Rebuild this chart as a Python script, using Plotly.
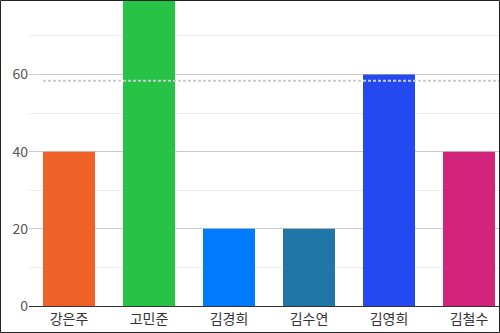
import plotly.graph_objects as go

# Scores per person
names = ["강은주", "고민준", "김경희", "김수연", "김영희", "김철수"]
scores = [40, 80, 20, 20, 60, 40]
bar_colors = ["#EE622A", "#27C346", "#007BFF", "#2176A8", "#2449F0", "#D2247A"]
reference_value = 58.4

W, H = 500, 333
M_L, M_R, M_T, M_B = 29, 0, 0, 27
plot_w = W - M_L - M_R
plot_h = H - M_T - M_B

fig = go.Figure(
    go.Bar(
        x=names,
        y=scores,
        marker=dict(color=bar_colors, line=dict(width=0)),
        width=0.65,
        hoverinfo="x+y",
    )
)

# Dotted reference line from the first bar's left edge across the plot
fig.add_shape(
    type="line",
    xref="x", yref="y",
    x0=-0.325, x1=5.6,
    y0=reference_value, y1=reference_value,
    line=dict(color="#CCCCCC", width=2, dash="3px,2px"),
    layer="above",
)

# Frame around the whole figure
fig.add_shape(
    type="rect",
    xref="paper", yref="paper",
    x0=(0.5 - M_L) / plot_w, x1=(W - 0.5 - M_L) / plot_w,
    y0=(plot_h - (H - 0.5)) / plot_h, y1=(plot_h - 0.5) / plot_h,
    line=dict(color="#222222", width=1),
    fillcolor="rgba(0,0,0,0)",
    layer="above",
)

fig.update_layout(
    width=W, height=H,
    margin=dict(l=M_L, r=M_R, t=M_T, b=M_B, pad=0),
    paper_bgcolor="white",
    plot_bgcolor="white",
    showlegend=False,
    font=dict(family="Noto Sans CJK KR, Noto Sans, sans-serif", size=14, color="#444"),
    xaxis=dict(
        range=[-0.5, -0.5 + plot_w / 80],
        showgrid=False,
        showline=True,
        linecolor="#333333",
        linewidth=1,
        ticks="",
        tickfont=dict(size=14, color="#333"),
        fixedrange=True,
    ),
    yaxis=dict(
        range=[0, 79.3],
        tickvals=[0, 20, 40, 60],
        showgrid=True,
        gridcolor="#CCCCCC",
        gridwidth=1,
        zeroline=False,
        ticks="",
        tickfont=dict(size=14, color="#555"),
        minor=dict(dtick=10, showgrid=True, gridcolor="#EBEBEB", gridwidth=1),
        fixedrange=True,
    ),
)

fig.write_html("out.html")
